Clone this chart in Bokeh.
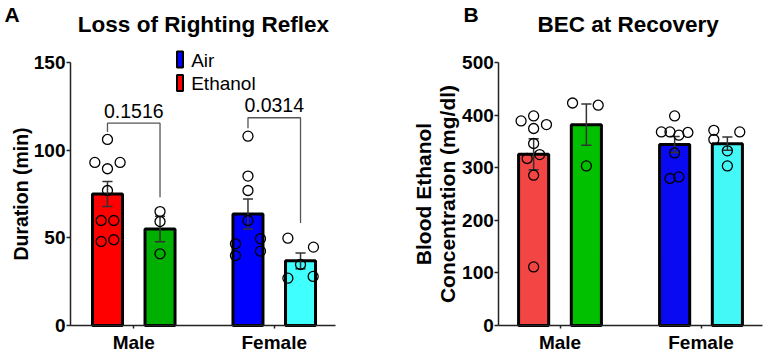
import numpy as np
from bokeh.plotting import figure
from bokeh.models import Range1d, FixedTicker, ColumnDataSource
from bokeh.layouts import row
from bokeh.embed import file_html
from bokeh.resources import INLINE
from bokeh.core.properties import value

FONT = "Liberation Sans"

sex_labels = ["Male", "Female"]
bar_sex = [0, 0, 1, 1]
bar_side = [-1, 1, -1, 1]

# Loss of righting reflex, duration (min), one list per bar
lorr_male_red = [106.1, 93.0, 89.4, 93.0, 77.0, 59.9, 59.9, 47.9, 48.9]
lorr_male_green = [65.0, 59.3, 40.9]
lorr_female_blue = [108.0, 85.2, 77.0, 59.9, 46.6, 39.9, 49.5, 42.4]
lorr_female_cyan = [49.8, 44.7, 34.8, 27.0, 28.0]

# horizontal spread of the individual animals inside each bar (x units)
lorr_male_red_dx = [0, -0.09, 0, 0.09, 0, -0.045, 0.045, -0.045, 0.045]
lorr_male_green_dx = [0, 0, 0]
lorr_female_blue_dx = [0, 0, 0, 0, -0.089, -0.089, 0.089, 0.089]
lorr_female_cyan_dx = [-0.09, 0.092, 0, -0.09, 0.09]

# Blood ethanol concentration at recovery (mg/dl)
bec_male_red = [389, 398.5, 374.5, 382, 346, 325, 317.5, 285.7, 111.4]
bec_male_green = [423, 418.8, 303.4]
bec_female_blue = [398.5, 368, 368, 361.8, 367, 328, 279.5, 282.5]
bec_female_cyan = [371, 353.6, 368, 332, 303.4]

bec_male_red_dx = [-0.089, 0, 0, 0.091, 0, 0.043, -0.046, 0, 0]
bec_male_green_dx = [-0.098, 0.084, 0]
bec_female_blue_dx = [0, -0.094, -0.033, 0.03, 0.094, 0, -0.033, 0.03]
bec_female_cyan_dx = [-0.096, -0.096, 0.088, 0, 0]

lorr_ticks = [0, 50, 100, 150]
bec_ticks = [0, 100, 200, 300, 400, 500]

p_values = ["0.1516", "0.0314"]
legend_labels = ["Air", "Ethanol"]
legend_colors = ["#0000FF", "#FF0000"]

colors_a = ["#FF0000", "#00B000", "#0000FF", "#40FFFF"]
colors_b = ["#F44545", "#00C000", "#0A0AF2", "#44F8F8"]

SHIFT = 0.187
BAR_W = 0.2135
CAP = 0.036
AXIS_COLOR = "#222222"
HEIGHT = 352
BASE_PX = 325          # pixel row of y = 0


class Panel:
    """A figure whose frame fills the whole canvas; axes sit at fixed data locations."""

    def __init__(self, width, x0_px, x_px_per_unit, y_px_per_unit, axis_left_px, axis_right_px,
                 ticks, groups, jitters, colors):
        self.x0_px, self.kx, self.ky = x0_px, x_px_per_unit, y_px_per_unit
        x_range = Range1d(self.x(0), self.x(width))
        y_range = Range1d(self.y(HEIGHT), self.y(0))
        p = figure(width=width, height=HEIGHT, title=None, x_range=x_range, y_range=y_range,
                   output_backend="svg", toolbar_location=None, min_border=0)
        p.outline_line_color = None
        p.xgrid.visible = False
        p.ygrid.visible = False
        p.background_fill_color = "white"
        p.border_fill_color = "white"

        x_left, x_right = self.x(axis_left_px), self.x(axis_right_px)
        p.yaxis.fixed_location = x_left
        p.xaxis.fixed_location = 0
        p.yaxis.ticker = FixedTicker(ticks=ticks)
        p.yaxis.bounds = (ticks[0], ticks[-1])
        p.xaxis.ticker = FixedTicker(ticks=[0, 1])
        p.xaxis.bounds = (x_left, x_right)
        p.xaxis.major_label_overrides = {0: sex_labels[0], 1: sex_labels[1]}
        for ax in (p.xaxis, p.yaxis):
            ax.axis_line_color = AXIS_COLOR
            ax.axis_line_width = 1.5
            ax.major_tick_line_color = AXIS_COLOR
            ax.major_tick_line_width = 1.5
            ax.major_tick_in = 0
            ax.minor_tick_line_color = None
            ax.major_label_text_font = FONT
            ax.major_label_text_font_style = "bold"
            ax.major_label_text_font_size = "19px"
            ax.major_label_text_color = "black"
        p.yaxis.major_tick_out = 4
        p.yaxis.major_label_standoff = 1
        p.xaxis.major_tick_out = 3
        p.xaxis.major_label_standoff = 3

        xs = [bar_sex[i] + bar_side[i] * SHIFT for i in range(4)]
        means = [float(np.mean(g)) for g in groups]
        sems = [float(np.std(g, ddof=1) / np.sqrt(len(g))) for g in groups]

        bars = ColumnDataSource(dict(x=xs, top=means, color=colors))
        p.vbar(x="x", top="top", width=BAR_W, bottom=0, source=bars,
               fill_color="color", line_color="black", line_width=3)

        lo = [m - s for m, s in zip(means, sems)]
        hi = [m + s for m, s in zip(means, sems)]
        left = [x - CAP for x in xs]
        right = [x + CAP for x in xs]
        p.segment(x0=xs, y0=lo, x1=xs, y1=hi, line_color="#333333", line_width=1.5)
        p.segment(x0=left, y0=hi, x1=right, y1=hi, line_color="#333333", line_width=1.5)
        p.segment(x0=left, y0=lo, x1=right, y1=lo, line_color="#333333", line_width=1.5)

        px, py = [], []
        for x, g, dx in zip(xs, groups, jitters):
            px += [x + d for d in dx]
            py += list(g)
        p.scatter(x=px, y=py, marker="circle", size=10, fill_color=None,
                  line_color="black", line_width=1.3)
        self.p, self.xs = p, xs

    def x(self, px):
        return (px - self.x0_px) / self.kx

    def y(self, py):
        return (BASE_PX - py) / self.ky

    def text(self, px, baseline_px, s, size, bold=False, align="left"):
        # alphabetic SVG text lands about a third of an em low; lift it
        lift = 0.33 * size
        self.p.text(x=[self.x(px)], y=[self.y(baseline_px - lift)], text=[s],
                    text_font=value(FONT), text_font_style="bold" if bold else "normal",
                    text_font_size=f"{size}px", text_align=align,
                    text_baseline="alphabetic", text_color="black")

    def vtext(self, center_px, center_py, s, size):
        self.p.text(x=[self.x(center_px)], y=[self.y(center_py)], text=[s], angle=np.pi / 2,
                    text_font=value(FONT), text_font_style="bold",
                    text_font_size=f"{size}px", text_align="center",
                    text_baseline="middle", text_color="black")


# Panel A: loss of righting reflex
A = Panel(384, 133.25, 140.5, 1.7533, 70, 335, lorr_ticks,
          [lorr_male_red, lorr_male_green, lorr_female_blue, lorr_female_cyan],
          [lorr_male_red_dx, lorr_male_green_dx, lorr_female_blue_dx, lorr_female_cyan_dx],
          colors_a)

# significance brackets
bracket_top = [115.4, 118.5]
bracket_left_end = [110.3, 112.5]
bracket_right_end = [73.2, 58.4]
for k in range(2):
    x0, x1 = A.xs[2 * k], A.xs[2 * k + 1]
    A.p.line(x=[x0, x0, x1, x1],
             y=[bracket_left_end[k], bracket_top[k], bracket_top[k], bracket_right_end[k]],
             line_color="#555555", line_width=1.3)
A.text(133.3, 116.7, p_values[0], 19.5, align="center")
A.text(273.7, 111.0, p_values[1], 19.5, align="center")

# legend swatches and entries
A.p.rect(x=[A.x(179.5)] * 2, y=[A.y(59.0), A.y(82.5)], width=0.043, height=9.0,
         fill_color=legend_colors, line_color="black", line_width=2)
A.text(190.7, 66.7, legend_labels[0], 19)
A.text(190.7, 89.3, legend_labels[1], 19)

A.text(203.0, 31.0, "Loss of Righting Reflex", 22.5, bold=True, align="center")
A.text(4.0, 20.5, "A", 21, bold=True)
A.vtext(20.0, 193.5, "Duration (min)", 19.5)

# Panel B: blood ethanol concentration at recovery
B = Panel(383, 175.5, 141.0, 0.526, 114.3, 377.7, bec_ticks,
          [bec_male_red, bec_male_green, bec_female_blue, bec_female_cyan],
          [bec_male_red_dx, bec_male_green_dx, bec_female_blue_dx, bec_female_cyan_dx],
          colors_b)
B.text(246.7, 31.5, "BEC at  Recovery", 22.5, bold=True, align="center")
B.text(79.0, 20.5, "B", 21, bold=True)
B.vtext(39.0, 193.5, "Blood Ethanol", 21)
B.vtext(63.0, 193.5, "Concentration (mg/dl)", 21)

layout = row(A.p, B.p, spacing=0)
open("out.html", "w").write(file_html(layout, INLINE))
